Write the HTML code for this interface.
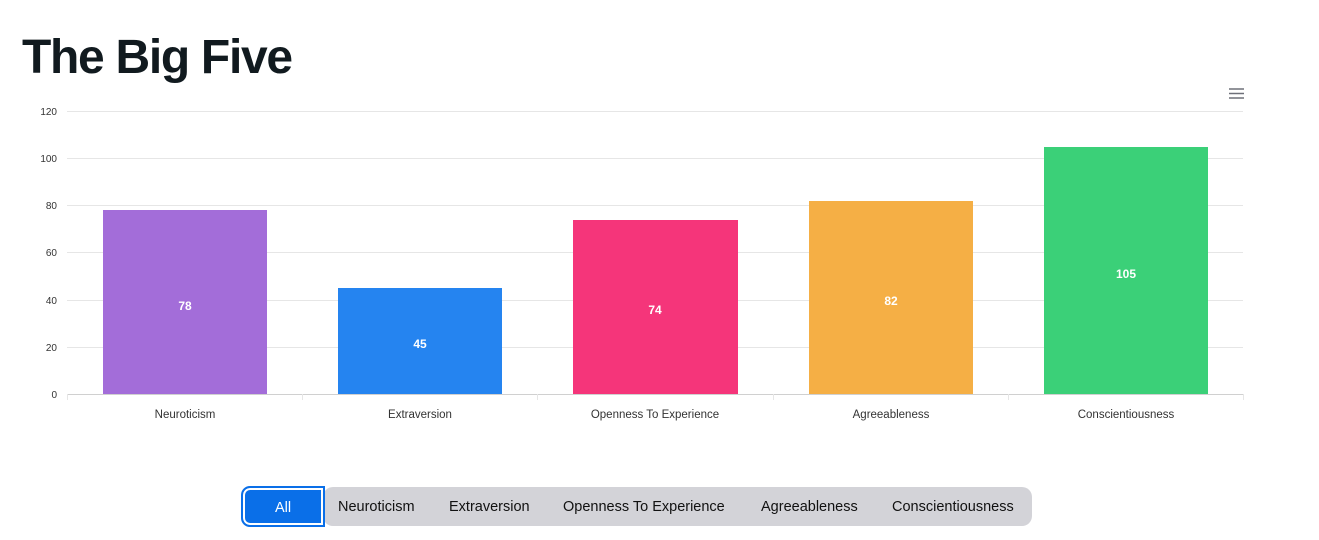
<!DOCTYPE html>
<html><head><meta charset="utf-8"><style>
body{margin:0;background:#fff;width:1319px;height:540px;overflow:hidden;font-family:"Liberation Sans",sans-serif;position:relative}
h1{position:absolute;left:22px;top:30px;margin:0;font-size:48px;font-weight:bold;color:#111a1f;letter-spacing:-1.3px}
.bar{position:absolute;left:323px;top:487px;width:709px;height:39px;background:#d3d3d8;border-radius:10px}
.all{position:absolute;left:241px;top:486px;width:80px;height:37px;background:#0a6fe8;border:2px solid #0a6fe8;border-radius:9px 0 0 9px;box-shadow:inset 0 0 0 2px #fff;color:#fff;font-size:14.5px;line-height:40px;text-align:center}
.t{position:absolute;top:499px;font-size:14.5px;color:#111}
</style></head><body>
<h1>The Big Five</h1>
<svg width="1319" height="540" style="position:absolute;left:0;top:0" font-family="Liberation Sans, sans-serif">
<g stroke="#e6e6e6" stroke-width="1">
<line x1="67" x2="1243" y1="111.5" y2="111.5"/><line x1="67" x2="1243" y1="158.5" y2="158.5"/>
<line x1="67" x2="1243" y1="205.5" y2="205.5"/><line x1="67" x2="1243" y1="252.5" y2="252.5"/>
<line x1="67" x2="1243" y1="300.5" y2="300.5"/><line x1="67" x2="1243" y1="347.5" y2="347.5"/>
<line x1="67" x2="1243" y1="394.5" y2="394.5" stroke="#d0d0d0"/>
<line x1="67.5" x2="67.5" y1="394" y2="400"/><line x1="302.5" x2="302.5" y1="394" y2="400"/><line x1="537.5" x2="537.5" y1="394" y2="400"/><line x1="773.5" x2="773.5" y1="394" y2="400"/><line x1="1008.5" x2="1008.5" y1="394" y2="400"/><line x1="1243.5" x2="1243.5" y1="394" y2="400"/>
</g>
<g font-size="10" fill="#333" text-anchor="end">
<text x="57" y="115">120</text><text x="57" y="162">100</text><text x="57" y="209">80</text><text x="57" y="256">60</text><text x="57" y="304">40</text><text x="57" y="351">20</text><text x="57" y="398">0</text>
</g>
<rect x="103" y="210" width="164" height="184" fill="#a36dd9"/>
<rect x="338" y="288" width="164" height="106" fill="#2584f0"/>
<rect x="573" y="220" width="165" height="174" fill="#f5357a"/>
<rect x="809" y="201" width="164" height="193" fill="#f5af45"/>
<rect x="1044" y="147" width="164" height="247" fill="#3bd078"/>
<g font-size="12" fill="#fff" font-weight="bold" text-anchor="middle">
<text x="185" y="310">78</text><text x="420" y="348">45</text><text x="655" y="314">74</text><text x="891" y="305">82</text><text x="1126" y="278">105</text>
</g>
<g font-size="11.5" fill="#333" text-anchor="middle">
<text x="185" y="418">Neuroticism</text><text x="420" y="418">Extraversion</text><text x="655" y="418">Openness To Experience</text><text x="891" y="418">Agreeableness</text><text x="1126" y="418">Conscientiousness</text>
</g>
<g stroke="#6e7079" stroke-width="1.5"><line x1="1229" x2="1244" y1="89" y2="89"/><line x1="1229" x2="1244" y1="93.5" y2="93.5"/><line x1="1229" x2="1244" y1="98" y2="98"/></g>
</svg>
<div class="bar"></div>
<div class="all">All</div>
<div class="t" style="left:338px">Neuroticism</div>
<div class="t" style="left:449px">Extraversion</div>
<div class="t" style="left:563px">Openness To Experience</div>
<div class="t" style="left:761px">Agreeableness</div>
<div class="t" style="left:892px">Conscientiousness</div>
</body></html>
